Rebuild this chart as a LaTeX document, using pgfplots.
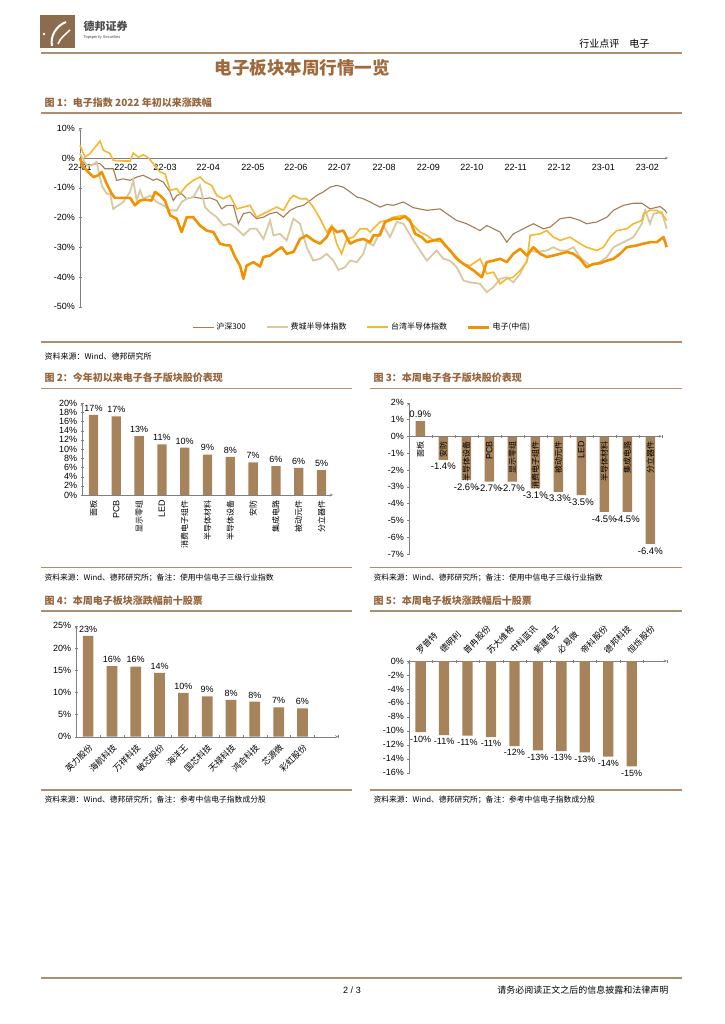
\documentclass[border=0pt]{standalone}
\usepackage{fontspec}
\setmainfont{Liberation Sans}
\newfontfamily\cjk{Noto Sans CJK SC}
\newfontfamily\lat{Liberation Sans}
\usepackage{pgfplots}
\pgfplotsset{compat=1.18}

\definecolor{dbbrown}{RGB}{166,131,91}
\definecolor{capbrown}{RGB}{150,100,60}
\definecolor{titlebrown}{RGB}{160,105,60}
\definecolor{rulebrown}{RGB}{172,142,112}
\definecolor{logobrown}{RGB}{140,108,78}
\definecolor{axgray}{RGB}{128,128,128}
\definecolor{hs}{RGB}{166,124,82}
\definecolor{ph}{RGB}{217,201,163}
\definecolor{tw}{RGB}{247,183,49}
\definecolor{dz}{RGB}{243,146,0}

\pgfplotsset{
  dbbase/.style={
    scale only axis, anchor=south west, clip=false,
    axis line style={-, draw=axgray},
    tick style={draw=axgray},
    major tick length=3pt, minor tick length=3pt,
    tick align=outside,
    hide obscured x ticks=false, hide obscured y ticks=false,
    /pgf/number format/assume math mode=true,
    ticklabel style={font=\fontsize{9}{10}\selectfont},
    yticklabel={\pgfmathprintnumber{\tick}\%},
  },
  dbbar/.style={
    dbbase, ybar, bar width=#1, bar shift=0pt,
    xmin=-0.5, xmax=10.5, xtick={0,...,10},
    major x tick style={draw=none},
    every node near coord/.append style={font=\fontsize{9}{10}\selectfont},
  },
}

\begin{document}
\begin{tikzpicture}
\fill[white] (0,0) rectangle (724pt,-1024pt);
\path[use as bounding box] (0,0) rectangle (724pt,-1024pt);

% header
\fill[logobrown] (40pt,-15pt) rectangle (75pt,-48pt);
\draw[white, line width=2pt] (52pt,-46pt) .. controls (50pt,-36pt) and (56pt,-26pt) .. (66pt,-22pt);
\draw[white, line width=1.5pt] (58pt,-44pt) .. controls (60pt,-38pt) and (66pt,-34pt) .. (70pt,-30pt);
\fill[white] (44pt,-34pt) circle (1.3pt);
\node[anchor=west, font=\cjk\bfseries\fontsize{11}{12}\selectfont, text=black!70] at (80pt,-26pt) {德邦证券};
\node[anchor=west, font=\fontsize{4}{5}\selectfont, text=black!70] at (80pt,-37pt) {Topsperity Securities};
\node[anchor=east, font=\cjk\fontsize{10}{12}\selectfont] at (653pt,-44pt) {行业点评\quad 电子};
\draw[rulebrown, line width=2pt] (41pt,-53pt) -- (682pt,-53pt);
\node[font=\cjk\bfseries\fontsize{17.5}{20}\selectfont, text=titlebrown] at (302pt,-68pt) {电子板块本周行情一览};

% figure 1
\node[anchor=west, font=\cjk\bfseries\fontsize{10}{12}\selectfont, text=capbrown] at (41pt,-103pt) {图 1：电子指数 2022 年初以来涨跌幅};
\draw[rulebrown, line width=1.2pt] (41pt,-113pt) -- (682pt,-113pt);

\begin{axis}[dbbase, at={(80pt,-306.7pt)}, width=588pt, height=178.4pt,
  xmin=0, xmax=276, ymin=-50, ymax=10, ytick={-50,-40,...,10},
  axis y line=left, axis x line=middle,
  xtick={0,21.5,39.9,60.2,81.1,101.3,121.7,142.7,163.5,183.9,204.5,224.9,245.7,266.3},
  xticklabels={22-01,22-02,22-03,22-04,22-05,22-06,22-07,22-08,22-09,22-10,22-11,22-12,23-01,23-02},
  major x tick style={draw=none},
  xticklabel style={yshift=-1pt},
  legend columns=4,
  legend style={at={(0.48,-0.115)}, anchor=center, draw=none, fill=none,
    font=\cjk\fontsize{8}{9}\selectfont,
    /tikz/every even column/.append style={column sep=18pt}},
  legend image code/.code={\draw[#1] (0pt,0pt) -- (21pt,0pt);},
  no marks,
]
\addplot[hs, line width=1.1pt] coordinates {
(0,-0.8) (3.9,-2.5) (7.8,-1.9) (9.4,-1.9) (11.7,-3.6) (15.6,-3.6) (17.2,-7.5) (20.3,-7.0) (23.5,-7.5) (26.6,-6.4) (29.7,-5.8) (34.4,-7.5) (36.0,-7.0) (39.1,-8.1) (42.3,-11.4) (43.8,-14.3) (45.4,-12.6) (47.7,-12.0) (50.1,-13.7) (53.2,-13.1) (57.9,-13.7) (61.0,-13.4) (64.2,-14.3) (66.5,-17.1) (68.9,-15.9) (72.0,-15.9) (74.3,-22.1) (76.7,-18.7) (79.8,-18.2) (82.9,-20.4) (86.1,-19.9) (89.2,-18.7) (92.3,-18.2) (95.5,-19.9) (98.6,-17.6) (101.7,-16.5) (104.9,-15.9) (108.0,-14.3) (111.1,-12.6) (114.2,-11.4) (117.4,-9.8) (120.5,-9.2) (123.6,-9.8) (126.8,-11.4) (129.9,-13.1) (133.0,-13.7) (136.2,-14.8) (140.8,-16.5) (144.0,-15.6) (147.1,-15.9) (151.8,-14.8) (156.5,-16.7) (162.8,-17.6) (169.0,-17.1) (172.1,-18.7) (176.8,-21.0) (181.5,-22.1) (187.8,-24.4) (190.9,-22.7) (194.1,-23.8) (197.2,-24.9) (200.3,-28.3) (203.4,-25.5) (208.1,-23.8) (212.8,-22.1) (217.5,-23.8) (220.7,-23.2) (225.4,-20.4) (230.0,-19.9) (234.7,-21.0) (237.8,-22.1) (242.6,-21.5) (247.3,-19.9) (250.4,-17.6) (255.1,-15.9) (259.8,-15.2) (263.7,-15.2) (267.6,-17.1) (272.3,-16.3) (274.6,-17.6) (275.4,-18.5)
};
\addlegendentry{沪深300}
\addplot[ph, line width=1.8pt] coordinates {
(0,1.5) (3.1,-2.5) (5.5,-2.5) (7.8,-1.3) (10.2,-9.2) (12.5,-12.0) (14.1,-12.0) (15.6,-17.1) (18.0,-15.9) (20.3,-14.8) (23.5,-11.4) (25.0,-7.5) (26.6,-14.3) (28.2,-10.9) (29.7,-13.7) (32.9,-12.6) (36.0,-14.8) (39.1,-15.9) (42.3,-17.6) (45.4,-17.6) (47.7,-14.8) (50.1,-13.7) (53.2,-13.1) (56.3,-9.2) (58.7,-16.5) (61.0,-18.2) (64.2,-19.9) (67.3,-22.7) (70.4,-22.1) (73.6,-23.8) (76.7,-26.0) (79.8,-23.8) (82.9,-23.8) (86.1,-27.2) (89.2,-21.0) (90.8,-26.0) (93.9,-25.5) (97.0,-27.7) (100.2,-20.4) (103.3,-22.1) (106.4,-30.0) (109.5,-34.5) (112.7,-33.9) (115.8,-32.2) (118.9,-34.5) (121.3,-37.6) (124.4,-36.7) (126.8,-34.5) (129.9,-35.0) (133.0,-32.2) (134.6,-28.3) (137.7,-29.4) (142.4,-22.7) (145.5,-26.6) (148.7,-21.5) (151.8,-22.1) (156.5,-27.7) (159.6,-31.1) (162.8,-34.5) (167.4,-31.1) (170.6,-33.9) (173.7,-34.5) (176.8,-36.7) (180.0,-41.2) (183.1,-41.8) (187.8,-42.3) (190.9,-45.1) (194.1,-43.4) (197.2,-40.6) (200.3,-40.1) (203.4,-41.8) (206.6,-38.9) (209.7,-34.5) (211.3,-31.1) (214.4,-31.6) (219.1,-31.1) (222.2,-30.0) (225.4,-31.1) (228.5,-31.1) (231.6,-30.0) (234.7,-33.3) (239.4,-36.2) (242.6,-35.6) (247.3,-33.3) (250.4,-30.0) (255.1,-28.3) (259.8,-26.6) (263.7,-22.1) (265.3,-17.6) (267.6,-22.1) (269.2,-18.7) (273.1,-18.2) (275.4,-23.8)
};
\addlegendentry{费城半导体指数}
\addplot[tw, line width=1.6pt] coordinates {
(0,4.3) (2.3,0.3) (4.7,1.5) (9.4,5.7) (11.0,2.6) (14.1,1.5) (15.6,-0.8) (20.3,-1.0) (23.5,-1.0) (25.0,1.7) (27.4,0.3) (29.7,1.1) (32.1,0.1) (34.4,-1.9) (37.6,-4.7) (39.9,-5.3) (42.3,-10.9) (45.4,-10.3) (46.9,-12.0) (50.1,-9.2) (53.2,-7.5) (56.3,-6.4) (58.7,-8.1) (61.8,-9.2) (64.2,-12.6) (67.3,-13.7) (70.4,-12.6) (73.6,-17.1) (76.7,-16.5) (79.8,-15.9) (82.9,-19.9) (86.1,-18.7) (89.2,-17.6) (92.3,-16.5) (95.5,-17.6) (98.6,-13.7) (100.2,-12.6) (103.3,-13.7) (106.4,-13.7) (109.5,-16.5) (112.7,-20.4) (115.8,-24.9) (118.2,-22.7) (120.5,-28.8) (122.8,-32.2) (125.2,-27.2) (128.3,-26.6) (131.5,-23.8) (134.6,-23.8) (136.2,-24.9) (140.8,-21.5) (144.0,-21.0) (147.1,-19.9) (151.8,-19.3) (156.5,-22.7) (159.6,-24.9) (162.8,-26.0) (165.9,-27.7) (170.6,-28.3) (173.7,-31.1) (176.8,-33.3) (180.0,-35.6) (183.1,-36.2) (187.8,-33.9) (190.9,-38.9) (194.1,-38.4) (197.2,-42.3) (200.3,-40.6) (203.4,-40.1) (206.6,-37.8) (209.7,-35.0) (211.3,-26.0) (216.0,-25.5) (219.1,-24.4) (222.2,-26.6) (225.4,-27.7) (230.0,-26.6) (234.7,-28.8) (237.8,-30.0) (242.6,-31.1) (245.7,-30.0) (248.8,-26.6) (251.9,-24.4) (256.6,-23.8) (259.8,-22.1) (263.7,-21.0) (264.5,-18.7) (267.6,-17.6) (270.7,-17.6) (273.1,-18.7) (275.4,-21.0)
};
\addlegendentry{台湾半导体指数}
\addplot[dz, line width=2.6pt, line join=round] coordinates {
(0,-0.2) (1.6,-3.0) (3.9,-4.7) (6.3,-6.4) (8.6,-5.8) (10.2,-4.7) (12.5,-8.6) (14.9,-12.0) (16.4,-13.4) (20.3,-13.4) (23.5,-13.4) (25.8,-15.9) (28.2,-14.3) (30.5,-14.0) (33.6,-14.3) (35.2,-11.4) (37.6,-12.6) (39.9,-14.3) (42.3,-19.3) (45.4,-20.4) (47.7,-24.9) (50.1,-19.9) (53.2,-19.9) (56.3,-22.7) (59.5,-24.4) (62.6,-24.9) (65.7,-28.8) (68.9,-29.4) (70.4,-29.4) (72.8,-33.3) (75.1,-36.2) (76.7,-40.6) (78.2,-36.2) (81.4,-35.0) (84.5,-36.5) (86.1,-33.3) (89.2,-32.8) (92.3,-31.1) (94.7,-30.0) (97.0,-32.2) (100.2,-31.6) (103.3,-27.2) (106.4,-26.0) (109.5,-27.7) (112.7,-28.8) (115.8,-26.6) (118.2,-23.2) (120.5,-24.9) (123.6,-24.4) (126.8,-28.8) (129.9,-27.7) (133.0,-27.2) (136.2,-28.3) (137.7,-26.0) (140.8,-26.0) (143.2,-21.5) (147.1,-20.4) (150.2,-20.4) (152.6,-19.6) (154.9,-21.0) (157.3,-25.5) (160.4,-26.6) (162.8,-28.3) (165.9,-27.7) (169.0,-27.2) (171.4,-29.4) (173.7,-31.1) (176.8,-33.9) (180.0,-35.6) (184.7,-37.8) (188.6,-40.1) (190.9,-35.0) (194.1,-34.5) (197.2,-33.9) (200.3,-35.0) (203.4,-32.2) (206.6,-30.5) (209.7,-32.8) (212.8,-30.0) (216.0,-32.2) (219.1,-33.3) (222.2,-32.8) (225.4,-32.2) (228.5,-31.6) (231.6,-32.2) (234.7,-33.9) (237.8,-36.7) (241.0,-35.6) (244.1,-35.4) (247.3,-34.5) (250.4,-33.9) (253.5,-32.2) (256.6,-30.0) (261.3,-29.4) (264.5,-28.8) (267.6,-28.3) (270.7,-28.3) (273.9,-26.6) (275.4,-30.0)
};
\addlegendentry{电子(中信)}
\end{axis}

\draw[rulebrown, line width=1.2pt] (41pt,-342pt) -- (682pt,-342pt);
\node[anchor=west, font=\cjk\fontsize{8}{10}\selectfont] at (41pt,-356pt) {资料来源：Wind、德邦研究所};

% figure 2 and 3 captions
\node[anchor=west, font=\cjk\bfseries\fontsize{10}{12}\selectfont, text=capbrown] at (41pt,-378pt) {图 2：今年初以来电子各子版块股价表现};
\node[anchor=west, font=\cjk\bfseries\fontsize{10}{12}\selectfont, text=capbrown] at (370pt,-378pt) {图 3：本周电子各子版块股价表现};
\draw[rulebrown, line width=1.2pt] (41pt,-388.5pt) -- (352pt,-388.5pt);
\draw[rulebrown, line width=1.2pt] (370pt,-388.5pt) -- (682pt,-388.5pt);

\begin{axis}[dbbar=9.3pt, at={(82.1pt,-495pt)}, width=250.8pt, height=92pt,
  ymin=0, ymax=20, ytick={0,2,...,20},
  axis y line=left, axis x line=bottom,
  xticklabels={面板,{\lat\fontsize{9}{9}\selectfont PCB},显示零组,{\lat\fontsize{9}{9}\selectfont LED},消费电子组件,半导体材料,半导体设备,安防,集成电路,被动元件,分立器件},
  xticklabel style={font=\cjk\fontsize{8}{9}\selectfont, rotate=90, anchor=east},
  nodes near coords={\pgfmathprintnumber[fixed,precision=0]{\pgfplotspointmeta}\%},
]
\addplot[fill=dbbrown, draw=none] coordinates {
(0,17.4) (1,17.1) (2,12.8) (3,11.0) (4,10.3) (5,8.8) (6,8.3) (7,7.1) (8,6.3) (9,5.9) (10,5.4)
};
\end{axis}

\begin{axis}[dbbar=9.5pt, at={(408.8pt,-554pt)}, width=253pt, height=151.3pt,
  ymin=-7, ymax=2, ytick={-7,...,2},
  axis y line=left, axis x line=middle, axis on top,
  minor xtick={-0.5,0.5,...,10.5},
  xticklabels={面板,安防,半导体设备,{\lat\fontsize{9}{9}\selectfont PCB},显示零组,消费电子组件,被动元件,{\lat\fontsize{9}{9}\selectfont LED},半导体材料,集成电路,分立器件},
  xticklabel style={font=\cjk\fontsize{8}{9}\selectfont, rotate=90, anchor=east},
  nodes near coords={\pgfmathprintnumber[fixed,fixed zerofill,precision=1]{\pgfplotspointmeta}\%},
  every node near coord/.append style={font=\fontsize{9.5}{10}\selectfont},
]
\addplot[fill=dbbrown, draw=none] coordinates {
(0,0.9) (1,-1.4) (2,-2.6) (3,-2.7) (4,-2.7) (5,-3.1) (6,-3.3) (7,-3.5) (8,-4.5) (9,-4.5) (10,-6.4)
};
\end{axis}

\draw[rulebrown, line width=1.2pt] (41pt,-567.5pt) -- (352pt,-567.5pt);
\draw[rulebrown, line width=1.2pt] (370pt,-567.5pt) -- (682pt,-567.5pt);
\node[anchor=west, font=\cjk\fontsize{7.8}{10}\selectfont] at (41pt,-578pt) {资料来源：Wind、德邦研究所；备注：使用中信电子三级行业指数};
\node[anchor=west, font=\cjk\fontsize{7.8}{10}\selectfont] at (370pt,-578pt) {资料来源：Wind、德邦研究所；备注：使用中信电子三级行业指数};

% figure 4 and 5
\node[anchor=west, font=\cjk\bfseries\fontsize{10}{12}\selectfont, text=capbrown] at (41pt,-601pt) {图 4：本周电子板块涨跌幅前十股票};
\node[anchor=west, font=\cjk\bfseries\fontsize{10}{12}\selectfont, text=capbrown] at (370pt,-601pt) {图 5：本周电子板块涨跌幅后十股票};
\draw[rulebrown, line width=1.2pt] (41pt,-611pt) -- (352pt,-611pt);
\draw[rulebrown, line width=1.2pt] (370pt,-611pt) -- (682pt,-611pt);

\begin{axis}[dbbar=10.7pt, at={(76.2pt,-736.7pt)}, width=262pt, height=111pt,
  ymin=0, ymax=25, ytick={0,5,...,25},
  axis y line=left, axis x line=bottom,
  minor xtick={-0.5,0.5,...,10.5},
  xticklabels={英力股份,海航科技,万祥科技,敏芯股份,海洋王,国芯科技,天禄科技,鸿合科技,芯源微,彩虹股份},
  xticklabel style={font=\cjk\fontsize{8.5}{9}\selectfont, rotate=45, anchor=north east},
  nodes near coords={\pgfmathprintnumber[fixed,precision=0]{\pgfplotspointmeta}\%},
]
\addplot[fill=dbbrown, draw=none] coordinates {
(0,22.7) (1,15.9) (2,15.8) (3,14.4) (4,9.9) (5,9.1) (6,8.3) (7,7.9) (8,6.6) (9,6.4)
};
\end{axis}

\begin{axis}[dbbar=10.3pt, at={(408.9pt,-772.7pt)}, width=258pt, height=111.7pt,
  ymin=-16, ymax=0, ytick={-16,-14,...,0},
  axis y line=left, axis x line=top,
  minor xtick={-0.5,0.5,...,10.5},
  xticklabels={罗普特,德明利,普冉股份,苏大维格,中科蓝讯,紫建电子,必易微,帝科股份,德邦科技,恒烁股份},
  xticklabel style={font=\cjk\fontsize{8.5}{9}\selectfont, rotate=45, anchor=south west},
  nodes near coords={\pgfmathprintnumber[fixed,precision=0]{\pgfplotspointmeta}\%},
]
\addplot[fill=dbbrown, draw=none] coordinates {
(0,-10.2) (1,-10.6) (2,-10.7) (3,-10.9) (4,-12.2) (5,-12.8) (6,-12.9) (7,-13.1) (8,-13.7) (9,-15.1)
};
\end{axis}

\draw[rulebrown, line width=1.2pt] (41pt,-790pt) -- (352pt,-790pt);
\draw[rulebrown, line width=1.2pt] (370pt,-790pt) -- (682pt,-790pt);
\node[anchor=west, font=\cjk\fontsize{7.8}{10}\selectfont] at (41pt,-800pt) {资料来源：Wind、德邦研究所；备注：参考中信电子指数成分股};
\node[anchor=west, font=\cjk\fontsize{7.8}{10}\selectfont] at (370pt,-800pt) {资料来源：Wind、德邦研究所；备注：参考中信电子指数成分股};

% footer
\draw[rulebrown, line width=2pt] (41pt,-978pt) -- (682pt,-978pt);
\node[font=\fontsize{9}{10}\selectfont] at (352pt,-990pt) {2 / 3};
\node[anchor=east, font=\cjk\fontsize{9}{10}\selectfont] at (672pt,-990pt) {请务必阅读正文之后的信息披露和法律声明};
\end{tikzpicture}
\end{document}
